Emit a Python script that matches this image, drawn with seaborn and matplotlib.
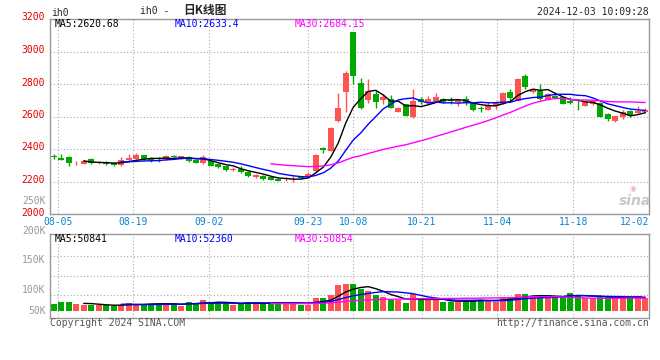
import numpy as np
import pandas as pd
import seaborn as sns
import matplotlib.pyplot as plt
from matplotlib.transforms import ScaledTranslation

# daily candles for ih0, 2024-08-02 .. 2024-12-02 (80 trading days)
OPEN = [2359, 2347, 2351, 2312, 2310, 2337, 2314, 2322, 2316, 2302,
        2330, 2339, 2361, 2343, 2341, 2339, 2359, 2343, 2351, 2335,
        2314, 2324, 2310, 2294, 2273, 2277, 2259, 2228, 2236, 2228,
        2216, 2214, 2214, 2232, 2226, 2265, 2404, 2388, 2571, 2749,
        3121, 2808, 2704, 2741, 2704, 2710, 2627, 2674, 2596, 2710,
        2688, 2698, 2710, 2700, 2690, 2708, 2682, 2653, 2641, 2667,
        2678, 2751, 2698, 2849, 2751, 2759, 2704, 2727, 2718, 2696,
        2692, 2667, 2674, 2684, 2616, 2571, 2596, 2633, 2622, 2629]
HIGH = [2369, 2367, 2355, 2328, 2334, 2345, 2328, 2324, 2318, 2351,
        2371, 2375, 2363, 2351, 2351, 2363, 2363, 2357, 2355, 2337,
        2363, 2328, 2314, 2298, 2288, 2294, 2263, 2247, 2241, 2232,
        2222, 2228, 2236, 2234, 2259, 2369, 2412, 2533, 2743, 2882,
        3123, 2837, 2831, 2755, 2739, 2735, 2659, 2678, 2770, 2718,
        2729, 2747, 2716, 2722, 2706, 2729, 2688, 2667, 2690, 2698,
        2751, 2767, 2837, 2861, 2772, 2800, 2743, 2753, 2724, 2718,
        2706, 2698, 2702, 2690, 2620, 2604, 2637, 2641, 2665, 2653]
LOW = [2339, 2330, 2296, 2300, 2306, 2310, 2308, 2302, 2298, 2296,
       2328, 2337, 2335, 2322, 2322, 2335, 2337, 2339, 2322, 2312,
       2306, 2294, 2282, 2265, 2265, 2255, 2230, 2224, 2212, 2208,
       2202, 2204, 2200, 2216, 2222, 2259, 2375, 2386, 2569, 2627,
       2800, 2649, 2682, 2651, 2678, 2651, 2625, 2604, 2590, 2678,
       2684, 2696, 2682, 2678, 2663, 2669, 2633, 2627, 2637, 2645,
       2676, 2698, 2696, 2770, 2747, 2704, 2700, 2706, 2674, 2674,
       2637, 2665, 2669, 2598, 2571, 2569, 2584, 2596, 2614, 2622]
CLOSE = [2349, 2332, 2314, 2316, 2324, 2314, 2320, 2306, 2302, 2335,
         2347, 2361, 2337, 2330, 2337, 2355, 2349, 2355, 2328, 2314,
         2349, 2296, 2290, 2269, 2277, 2259, 2234, 2241, 2216, 2212,
         2206, 2218, 2218, 2222, 2247, 2363, 2392, 2529, 2653, 2865,
         2847, 2651, 2755, 2688, 2723, 2653, 2655, 2606, 2698, 2692,
         2708, 2723, 2690, 2696, 2702, 2682, 2643, 2645, 2665, 2692,
         2747, 2714, 2833, 2780, 2767, 2710, 2739, 2712, 2676, 2686,
         2688, 2690, 2694, 2600, 2582, 2600, 2627, 2612, 2635, 2643]
VOLUME = [26600, 34200, 34200, 26600, 22800, 22800, 22800, 22800, 19000, 22800,
          30400, 26600, 26600, 26600, 26600, 30400, 26600, 19000, 34200, 30400,
          41700, 30400, 30400, 30400, 22800, 30400, 34200, 30400, 26600, 26600,
          34200, 34200, 34200, 22800, 22800, 49300, 49300, 60700, 98700, 102500,
          102500, 82200, 75900, 60700, 53100, 41700, 41700, 30400, 64500, 41700,
          41700, 41700, 34200, 34200, 34200, 41700, 41700, 41700, 41700, 34200,
          49300, 53100, 64500, 64500, 53100, 56900, 50600, 56900, 56900, 68300,
          60700, 49300, 49300, 53100, 53100, 49300, 49300, 49300, 56900, 49300]

TICK_IDX = [1, 11, 21, 34, 40, 49, 59, 69, 79]
TICK_LABELS = ["08-05", "08-19", "09-02", "09-23", "10-08", "10-21", "11-04", "11-18", "12-02"]
PRICE_TICKS = [2000, 2200, 2400, 2600, 2800, 3000, 3200]
VOL_LABELS = ["250K", "200K", "150K", "100K", "50K"]
HEADER_PRICE = ["MA5:2620.68", "MA10:2633.4", "MA30:2684.15"]
HEADER_VOL = ["MA5:50841", "MA10:52360", "MA30:50854"]

RED = "#ff5252"
GREEN = "#00a800"
MA_COLORS = ["black", "#0000ff", "#ff00ff"]
MONO = "DejaVu Sans Mono"

sns.set_style("white")
plt.rcParams["font.family"] = [MONO, "Noto Sans CJK SC"]
plt.rcParams["font.size"] = 7

df = pd.DataFrame({"idx": np.arange(len(CLOSE)), "open": OPEN, "high": HIGH,
                   "low": LOW, "close": CLOSE, "vol": VOLUME})
for n in (5, 10, 30):
    df[f"ma{n}"] = df["close"].rolling(n).mean()
    df[f"vma{n}"] = df["vol"].rolling(n).mean()
up = df["close"] >= df["open"]
colors = np.where(up, RED, GREEN)

W, H = 660, 360
fig = plt.figure(figsize=(W / 100, H / 100), dpi=100)


def fx(x):
    return x / W


def fy(y):
    return 1 - y / H


ax = fig.add_axes([fx(50), fy(214), 599 / W, 195 / H])
axv = fig.add_axes([fx(50), fy(318.3), 599 / W, 84 / H])

# candles
ax.vlines(df["idx"], df["low"], df["high"], colors=colors, linewidth=1)
body_lo = np.minimum(df["open"], df["close"])
body_h = np.maximum(np.abs(df["close"] - df["open"]), 4)
ax.bar(df["idx"], body_h, bottom=body_lo, width=0.8, color=colors, linewidth=0)
for n, c in zip((5, 10, 30), MA_COLORS):
    sns.lineplot(data=df, x="idx", y=f"ma{n}", ax=ax, color=c, linewidth=1, estimator=None)

# volume
axv.bar(df["idx"], df["vol"], width=0.8, color=colors, linewidth=0)
for n, c in zip((5, 10, 30), MA_COLORS):
    sns.lineplot(data=df, x="idx", y=f"vma{n}", ax=axv, color=c, linewidth=1, estimator=None)

tick_pos = [-0.5 + i * 80 / 79 for i in TICK_IDX]
grid_kw = dict(color="#aaaaaa", linestyle=(0, (1, 2)), linewidth=0.8)

for a in (ax, axv):
    a.set_xlim(-0.5, 79.5)
    a.set_xlabel("")
    a.set_ylabel("")
    a.set_xticks(tick_pos)
    a.grid(True, **grid_kw)
    a.tick_params(length=0)
    for s in a.spines.values():
        s.set_color("#999999")
        s.set_linewidth(1)

ax.set_ylim(2000, 3200)
ax.set_yticks(PRICE_TICKS)
ax.tick_params(axis="y", pad=4, labelcolor="#e00000", labelsize=7)
shift = ScaledTranslation(0, 2.5 / 100, fig.dpi_scale_trans)
for lab in ax.get_yticklabels():
    lab.set_transform(lab.get_transform() + shift)
ax.set_xticklabels(TICK_LABELS)
ax.tick_params(axis="x", pad=2.5, labelcolor="#0a84d0", labelsize=7)
ax.get_xticklabels()[-1].set_ha("right")

vol_lim = (-27700, 291000)
axv.set_ylim(*vol_lim)
grid_fracs = [0.277, 0.507, 0.742]
axv.set_yticks([vol_lim[0] + f * (vol_lim[1] - vol_lim[0]) for f in grid_fracs])
axv.set_yticklabels([])
axv.set_xticklabels([])
for lab, f in zip(VOL_LABELS, [1.40, 1.043, 0.690, 0.337, 0.090]):
    axv.text(-0.007, f, lab, transform=axv.transAxes, ha="right", va="center",
             color="#999999", fontsize=7)

# headers
for txt, x, c in zip(HEADER_PRICE, (55, 175, 295), MA_COLORS):
    fig.text(fx(x), fy(23.7), txt, color=c, ha="left", va="center", fontsize=7)
for txt, x, c in zip(HEADER_VOL, (55, 175, 295), MA_COLORS):
    fig.text(fx(x), fy(239), txt, color=c, ha="left", va="center", fontsize=7)

fig.text(fx(51), fy(12.5), "ih0", ha="left", va="center", fontsize=7)
fig.text(fx(140), fy(11), "ih0 -", ha="left", va="center", fontsize=7)
fig.text(fx(183), fy(10.5), "日K线图", ha="left", va="center", fontsize=8.5,
         fontweight="bold", family=["Noto Sans CJK SC", "DejaVu Sans"])
fig.text(fx(649), fy(12), "2024-12-03 10:09:28", ha="right", va="center", fontsize=7)
fig.text(fx(50), fy(323.5), "Copyright 2024 SINA.COM", ha="left", va="center",
         fontsize=7, color="#555555")
fig.text(fx(649), fy(323.5), "http://finance.sina.com.cn", ha="right", va="center",
         fontsize=7, color="#555555")
# watermark: small eye mark above the "sina" word
fig.text(fx(635), fy(201), "sina", ha="center", va="center", fontsize=10,
         fontweight="bold", style="italic", color="#c8c8c8", family="DejaVu Sans")
fig.text(fx(633), fy(188), "\u25c9", ha="center", va="center", fontsize=5.5,
         color="#f5b5b5", family="DejaVu Sans")

fig.savefig("out.png", dpi=100)
